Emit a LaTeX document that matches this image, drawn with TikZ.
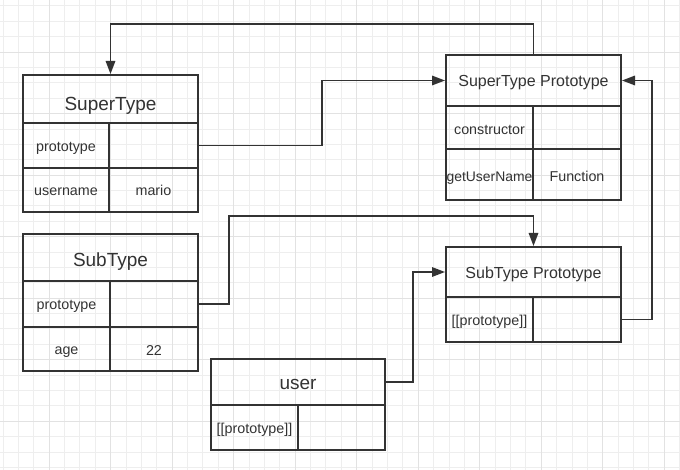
\documentclass[tikz,border=0pt]{standalone}
\usepackage{fontspec}
\setmainfont{Liberation Sans}
\usetikzlibrary{arrows.meta}
\definecolor{ink}{HTML}{333333}
\definecolor{gridminor}{HTML}{EEEEEE}
\definecolor{gridmajor}{HTML}{E2E2E2}
\begin{document}
\begin{tikzpicture}[x=1pt,y=-1pt,
  cell/.style={draw=ink, line width=2pt, rectangle, inner sep=0pt, text=ink,
               font=\fontsize{14.3}{16}\selectfont, text height=11.5pt, text depth=0pt},
  objhead/.style={cell, font=\fontsize{19}{22}\selectfont, text height=13.7pt, text depth=0pt},
  protohead/.style={cell, font=\fontsize{16}{19}\selectfont, text height=13pt, text depth=0pt},
  conn/.style={draw=ink, line width=1.5pt},
  arr/.style={conn, -{Triangle[length=13pt,width=9.5pt]}}]
\useasboundingbox (0,0) rectangle (680,470);
\fill[white] (0,0) rectangle (680,470);
% grid
\foreach \k in {0,...,44} {
  \pgfmathsetmacro\xx{3+15.38*\k}
  \draw[gridminor, line width=1pt] (\xx,0) -- (\xx,470);
}
\foreach \k in {0,...,30} {
  \pgfmathsetmacro\yy{6+15.38*\k}
  \draw[gridminor, line width=1pt] (0,\yy) -- (680,\yy);
}
\foreach \k in {3,7,...,43} {
  \pgfmathsetmacro\xx{3+15.38*\k}
  \draw[gridmajor, line width=1pt] (\xx,0) -- (\xx,470);
}
\foreach \k in {3,7,...,27} {
  \pgfmathsetmacro\yy{6+15.38*\k}
  \draw[gridmajor, line width=1pt] (0,\yy) -- (680,\yy);
}

% SuperType
\node[objhead, minimum width=175pt, minimum height=48pt, text height=23.7pt] (st) at (110.5,99) {SuperType};
\node[cell, minimum width=86pt, minimum height=45pt] (st-pk) at (66,145.5) {prototype};
\node[cell, minimum width=89pt, minimum height=45pt] (st-pv) at (153.5,145.5) {};
\node[cell, minimum width=86pt, minimum height=44pt] (st-uk) at (66,190) {username};
\node[cell, minimum width=89pt, minimum height=44pt] (st-uv) at (153.5,190) {mario};

% SuperType Prototype
\node[protohead, minimum width=175pt, minimum height=51pt] (sp) at (533.5,80.5) {SuperType Prototype};
\node[cell, minimum width=87pt, minimum height=43pt, text height=14pt] (sp-ck) at (489.5,127.5) {constructor};
\node[cell, minimum width=88pt, minimum height=43pt] (sp-cv) at (577,127.5) {};
\node[cell, minimum width=87pt, minimum height=51pt, font=\fontsize{13.9}{16}\selectfont, text height=15pt] (sp-gk) at (489.5,174.5) {getUserName};
\node[cell, minimum width=88pt, minimum height=51pt, text height=15pt] (sp-gv) at (577,174.5) {Function};

% SubType
\node[objhead, minimum width=175pt, minimum height=47pt, text height=18.7pt] (sb) at (110.5,257.5) {SubType};
\node[cell, minimum width=87pt, minimum height=46pt] (sb-pk) at (66.5,304) {prototype};
\node[cell, minimum width=88pt, minimum height=46pt] (sb-pv) at (154,304) {};
\node[cell, minimum width=87pt, minimum height=44pt] (sb-ak) at (66.5,349) {age};
\node[cell, minimum width=88pt, minimum height=44pt, text height=12.5pt] (sb-av) at (154,349) {22};

% SubType Prototype
\node[protohead, minimum width=175pt, minimum height=50pt] (bp) at (533.5,272) {SubType Prototype};
\node[cell, minimum width=87pt, minimum height=45pt, text height=12pt] (bp-pk) at (489.5,319.5) {[[prototype]]};
\node[cell, minimum width=88pt, minimum height=45pt] (bp-pv) at (577,319.5) {};

% user
\node[objhead, minimum width=174pt, minimum height=46pt, text height=15pt] (us) at (298,382) {user};
\node[cell, minimum width=87pt, minimum height=45pt, text height=12pt] (us-pk) at (254.5,427.5) {[[prototype]]};
\node[cell, minimum width=87pt, minimum height=45pt] (us-pv) at (341.5,427.5) {};

% connectors
\coordinate (k1) at (533.5,24);
\coordinate (k2) at (322,80.5);
\coordinate (k3) at (229,216);
\coordinate (k4) at (413,272);
\coordinate (k5) at (652,319.5);
\draw[arr] (sp.north) -- (k1) -| (st.north);
\draw[arr] (st-pv.east) -| (k2) -- (sp.west);
\draw[arr] (sb-pv.east) -| (k3) -| (bp.north);
\draw[arr] (us.east) -| (k4) -- (bp.west);
\draw[arr] (bp-pv.east) -- (k5) |- (sp.east);
\end{tikzpicture}
\end{document}
